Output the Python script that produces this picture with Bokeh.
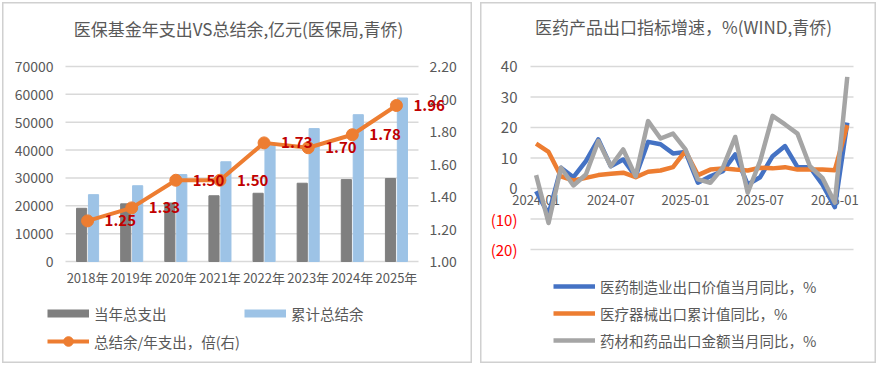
from bokeh.plotting import figure
from bokeh.models import (ColumnDataSource, Range1d, Label, Legend, LegendItem, Row)
from bokeh.core.properties import value
from bokeh.embed import file_html
from bokeh.resources import INLINE

FONT = "Noto Sans CJK SC"
TXT = "#595959"
GRID = "#d9d9d9"
ORANGE = "#ed7d31"
PANEL = "#d0d0d0"
NAN = float("nan")

# ---------------- left chart data ----------------
years = ["2018年", "2019年", "2020年", "2021年", "2022年", "2023年", "2024年", "2025年"]
spend = [19100, 20700, 21000, 23600, 24500, 28100, 29400, 29800]
balance = [24000, 27200, 31200, 35800, 42500, 47700, 52700, 58700]
ratio = [1.25, 1.33, 1.50, 1.50, 1.73, 1.70, 1.78, 1.96]
left_ticks = [0, 10000, 20000, 30000, 40000, 50000, 60000, 70000]
right_ticks = [1.00, 1.20, 1.40, 1.60, 1.80, 2.00, 2.20]

# ---------------- right chart data ----------------
months = ["2024-01", "2024-02", "2024-03", "2024-04", "2024-05", "2024-06", "2024-07", "2024-08",
          "2024-09", "2024-10", "2024-11", "2024-12", "2025-01", "2025-02", "2025-03", "2025-04",
          "2025-05", "2025-06", "2025-07", "2025-08", "2025-09", "2025-10", "2025-11", "2025-12",
          "2026-01", "2026-02"]
pharma = [-0.9, -8.5, 6.8, 3.7, 9.0, 16.1, 7.3, 9.5, 4.0, 15.3, 14.5, 11.5, 12.0, 1.9, 4.0, 5.7,
          11.2, 1.3, 3.7, 10.6, 13.9, 7.0, 7.0, 1.3, -6.1, 21.6]
device = [14.7, 12.0, 4.0, 2.6, 3.5, 4.4, 4.8, 5.2, 3.7, 5.5, 5.9, 7.0, 12.3, 4.4, 6.2, 6.6,
          6.2, 5.9, 6.8, 6.6, 7.0, 6.2, 6.2, 6.2, 6.0, 20.8]
herbal = [4.4, -11.3, 6.8, 1.0, 4.6, 15.6, 7.3, 12.8, 4.0, 22.1, 16.4, 18.0, 12.8, 3.0, 1.9, 6.8,
          16.9, -1.4, 9.0, 23.8, 21.0, 18.0, 7.3, 3.5, -4.7, 36.6]
x_tick_labels = ["2024-01", "2024-07", "2025-01", "2025-07", "2026-01"]
y_ticks = [-20, -10, 0, 10, 20, 30, 40]
y_tick_labels = ["(20)", "(10)", "0", "10", "20", "30", "40"]


def span_range(lo, hi, p_lo, p_hi, total):
    """Range whose values lo/hi land at pixel offsets p_lo/p_hi of a canvas `total` px long."""
    scale = (p_hi - p_lo) / (hi - lo)
    start = lo - p_lo / scale
    return Range1d(start, start + total / scale)


def base_fig(w, h):
    p = figure(width=w, height=h, output_backend="svg", toolbar_location=None,
               min_border=0, x_axis_type=None, y_axis_type=None)
    p.xgrid.visible = False
    p.ygrid.visible = False
    p.outline_line_color = PANEL
    p.outline_line_width = 2
    return p


# ================= LEFT =================
W1, H1 = 470, 361
FL, FR, FT, FB = 63, 416, 64, 259          # plot area in canvas pixels
p1 = base_fig(W1, H1)
p1.x_range = span_range(-0.5, len(years) - 0.5, FL, FR, W1)
p1.y_range = span_range(0, 70000, H1 - FB, H1 - FT, H1)
p1.extra_y_ranges = {"r": span_range(1.0, 2.2, H1 - FB, H1 - FT, H1)}

xi1 = list(range(len(years)))
src = ColumnDataSource(dict(x=xi1, years=years, spend=spend, balance=balance, ratio=ratio,
                            zero=[0] * len(years), lbl=[f"{r:.2f}" for r in ratio]))

# gridlines
n_l = len(left_ticks)
p1.segment(x0=[-0.5] * n_l, x1=[len(years) - 0.5] * n_l, y0=left_ticks, y1=left_ticks,
           line_color=GRID, line_width=1.5)
# left tick labels
p1.text(x=[-0.5] * n_l, y=left_ticks, text=[str(t) for t in left_ticks], x_offset=-12,
        text_align="right", text_baseline="middle", text_font=value(FONT),
        text_font_size="14px", text_color=TXT)
# right tick labels
p1.text(x=[len(years) - 0.5] * len(right_ticks), y=right_ticks, y_range_name="r",
        text=[f"{t:.2f}" for t in right_ticks], x_offset=11,
        text_align="left", text_baseline="middle", text_font=value(FONT),
        text_font_size="14px", text_color=TXT)
# x labels
p1.text(x="x", y="zero", text="years", source=src, y_offset=6,
        text_align="center", text_baseline="top", text_font=value(FONT),
        text_font_size="13px", text_color=TXT)

b1 = p1.vbar(x=[i - 0.135 for i in xi1], top=spend, width=0.23, color="#7f7f7f")
b2 = p1.vbar(x=[i + 0.135 for i in xi1], top=balance, width=0.23, color="#9dc3e6")
l1 = p1.line("x", "ratio", source=src, y_range_name="r", color=ORANGE, line_width=4)
s1 = p1.scatter("x", "ratio", source=src, y_range_name="r", size=12, color=ORANGE)
p1.text(x="x", y="ratio", text="lbl", source=src, y_range_name="r", x_offset=17,
        text_align="left", text_baseline="middle", text_font=value(FONT),
        text_font_size="15px", text_font_style="bold", text_color="#c00000")

# legend swatches (thick lines mimic the flat legend boxes; NaN data draws nothing)
lg_gray = p1.line(x=[NAN], y=[NAN], color="#7f7f7f", line_width=8)
lg_blue = p1.line(x=[NAN], y=[NAN], color="#9dc3e6", line_width=8)

p1.add_layout(Label(x=236, y=H1 - 26, x_units="screen", y_units="screen",
                    text="医保基金年支出VS总结余,亿元(医保局,青侨)", text_align="center",
                    text_baseline="middle", text_font=FONT, text_font_size="17px",
                    text_color=TXT))

# column-major fill: first column holds items 1 and 3, second column item 2
leg1 = Legend(items=[LegendItem(label="当年总支出", renderers=[lg_gray]),
                     LegendItem(label="总结余/年支出，倍(右)", renderers=[l1, s1]),
                     LegendItem(label="累计总结余", renderers=[lg_blue])],
              ncols=2, location=(45, 10), padding=0, margin=0, spacing=4,
              glyph_width=42, glyph_height=24, label_height=20, label_standoff=5,
              border_line_color=None, background_fill_alpha=0,
              label_text_font=FONT, label_text_font_size="14.5px", label_text_color=TXT)
p1.add_layout(leg1)

# ================= RIGHT =================
W2, H2 = 396, 361
GL, GR, GT, GB = 50, 373, 64, 247
p2 = base_fig(W2, H2)
xlo, xhi = -0.45, len(months) - 0.5
p2.x_range = span_range(xlo, xhi, GL, GR, W2)
p2.y_range = span_range(-20, 40, H2 - GB, H2 - GT, H2)

xi = list(range(len(months)))
src2 = ColumnDataSource(dict(x=xi, pharma=pharma, device=device, herbal=herbal))

n_y = len(y_ticks)
p2.segment(x0=[xlo] * n_y, x1=[xhi] * n_y, y0=y_ticks, y1=y_ticks,
           line_color=GRID, line_width=1.5)
p2.text(x=[xlo] * n_y, y=y_ticks, text=y_tick_labels, x_offset=-13,
        text_align="right", text_baseline="middle", text_font=value(FONT),
        text_font_size="15px",
        text_color=["#ff0000" if t < 0 else TXT for t in y_ticks])
tick_idx = [months.index(m) for m in x_tick_labels]
p2.text(x=tick_idx, y=[0] * len(tick_idx), text=x_tick_labels, y_offset=6,
        text_align="center", text_baseline="top", text_font=value(FONT),
        text_font_size="13px", text_color=TXT)

r_ph = p2.line("x", "pharma", source=src2, color="#4472c4", line_width=4.5, line_join="round")
r_de = p2.line("x", "device", source=src2, color=ORANGE, line_width=4.5, line_join="round")
r_he = p2.line("x", "herbal", source=src2, color="#a5a5a5", line_width=4.5, line_join="round")

p2.add_layout(Label(x=203, y=H2 - 24, x_units="screen", y_units="screen",
                    text="医药产品出口指标增速，%(WIND,青侨)", text_align="center",
                    text_baseline="middle", text_font=FONT, text_font_size="17px",
                    text_color=TXT))

leg2 = Legend(items=[LegendItem(label="医药制造业出口价值当月同比，%", renderers=[r_ph]),
                     LegendItem(label="医疗器械出口累计值同比，%", renderers=[r_de]),
                     LegendItem(label="药材和药品出口金额当月同比，%", renderers=[r_he])],
              location=(73, 12), padding=0, margin=0, spacing=5,
              glyph_width=42, glyph_height=22, label_height=20, label_standoff=5,
              border_line_color=None, background_fill_alpha=0,
              label_text_font=FONT, label_text_font_size="14.5px", label_text_color=TXT)
p2.add_layout(leg2)

layout = Row(children=[p1, p2], spacing=8, margin=(2, 0, 0, 2))

open("out.html", "w").write(file_html(layout, INLINE))
